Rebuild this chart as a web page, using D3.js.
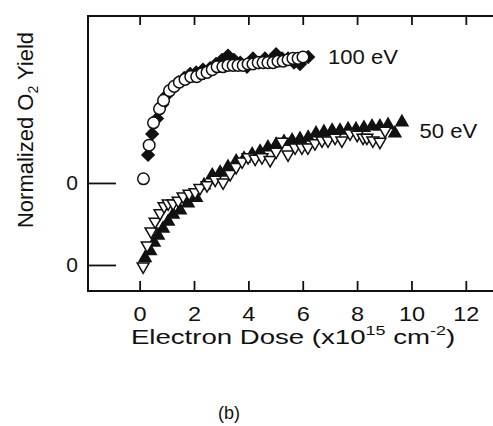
<!DOCTYPE html>
<html lang="en">
  <head>
    <title>Normalized O2 yield vs electron dose</title>
    <style>
      body { margin: 0; background: #fff; }
      text { font-family: "Liberation Sans", Arial, sans-serif; fill: #111; }
    </style>
  </head>
  <body>
    <div id="viz"></div>
    <script src="https://cdn.jsdelivr.net/npm/d3@7/dist/d3.min.js"></script>
    <script>
      // electron dose (x10^15 cm^-2), normalized yield
      const ev100Diamonds = [[0.31,0.20],[0.46,0.35],[0.64,0.46],[0.83,0.56],[1.01,0.63],[1.19,0.68],[1.42,0.72],[1.64,0.75],[1.86,0.78],[2.08,0.79],[2.33,0.81],[2.59,0.82],[2.81,0.85],[3.03,0.88],[3.25,0.91],[3.47,0.88],[3.70,0.86],[3.95,0.83],[4.17,0.89],[4.39,0.86],[4.61,0.89],[4.83,0.88],[5.02,0.92],[5.24,0.89],[5.46,0.89],[5.68,0.86],[5.90,0.85],[6.20,0.90]]
      const ev100Circles = [[0.14,0.03],[0.35,0.27],[0.51,0.43],[0.73,0.53],[0.88,0.59],[1.10,0.66],[1.27,0.69],[1.46,0.72],[1.67,0.74],[1.88,0.76],[2.10,0.76],[2.29,0.78],[2.48,0.79],[2.67,0.81],[2.85,0.83],[3.06,0.83],[3.25,0.84],[3.44,0.84],[3.62,0.84],[3.81,0.84],[3.99,0.85],[4.17,0.85],[4.36,0.86],[4.54,0.86],[4.72,0.86],[4.91,0.86],[5.09,0.87],[5.28,0.87],[5.46,0.88],[5.64,0.89],[5.83,0.89],[6.01,0.90]]
      const ev50Filled = [[0.20,0.05],[0.39,0.10],[0.53,0.16],[0.68,0.21],[0.86,0.26],[1.05,0.31],[1.23,0.36],[1.49,0.39],[1.78,0.44],[2.08,0.48],[2.37,0.57],[2.67,0.64],[2.96,0.66],[3.25,0.70],[3.55,0.74],[3.84,0.76],[4.14,0.79],[4.43,0.81],[4.72,0.84],[5.02,0.86],[5.31,0.88],[5.61,0.89],[5.90,0.90],[6.20,0.91],[6.49,0.94],[6.78,0.95],[7.08,0.96],[7.37,0.96],[7.67,0.97],[7.96,0.97],[8.25,0.98],[8.55,0.99],[8.84,0.99],[9.14,1.00],[9.39,0.94],[9.65,1.02]]
      const ev50Open = [[0.13,-0.01],[0.28,0.14],[0.42,0.24],[0.57,0.31],[0.75,0.37],[0.90,0.42],[1.05,0.44],[1.23,0.44],[1.42,0.46],[1.60,0.49],[1.82,0.51],[2.04,0.52],[2.22,0.55],[2.48,0.57],[2.78,0.61],[3.07,0.59],[3.33,0.65],[3.55,0.70],[3.77,0.74],[3.99,0.77],[4.25,0.76],[4.50,0.77],[4.80,0.75],[5.02,0.81],[5.24,0.88],[5.46,0.79],[5.72,0.84],[5.97,0.84],[6.19,0.84],[6.45,0.87],[6.71,0.89],[6.93,0.89],[7.19,0.91],[7.44,0.89],[7.74,0.94],[8.00,0.93],[8.22,0.91],[8.36,0.91],[8.58,0.89],[8.84,0.88],[9.03,0.96]]
      const offset100 = 0.586
      const xTicks = [0, 2, 4, 6, 8, 10, 12]
      const yTicks = [0, offset100]
      const curveLabels = [{ text: '100 eV', x: 6.93, y: offset100 + 0.905 }, { text: '50 eV', x: 10.3, y: 0.96 }]

      const width = 493
      const height = 426
      const svg = d3.select('#viz').append('svg').attr('width', width).attr('height', height)

      const x = d3.scaleLinear().domain([-1.9, 13]).range([88, 493])
      const y = d3.scaleLinear().domain([-0.186, 1.779]).range([291, 16])

      // the scanned lettering is a bit wider than Arial
      const stretch = (cx, cy, sx) => `translate(${cx},${cy}) scale(${sx},1) translate(${-cx},${-cy})`

      // frame (right side runs off the picture)
      svg.append('path')
        .attr('d', `M${width},${y.range()[1]}H${x.range()[0]}V${y.range()[0]}H${width}`)
        .attr('fill', 'none').attr('stroke', '#111').attr('stroke-width', 2)

      const gBottom = svg.append('g').attr('transform', `translate(0,${y.range()[0]})`)
        .call(d3.axisBottom(x).tickValues(xTicks).tickSizeInner(-10).tickSizeOuter(0).tickPadding(15))
      const gTop = svg.append('g').attr('transform', `translate(0,${y.range()[1]})`)
        .call(d3.axisTop(x).tickValues(xTicks).tickSizeInner(-9).tickSizeOuter(0).tickFormat(''))
      const gLeft = svg.append('g').attr('transform', `translate(${x.range()[0]},0)`)
        .call(d3.axisLeft(y).tickValues(yTicks).tickFormat(() => '0').tickSizeInner(-28).tickSizeOuter(0).tickPadding(10))

      ;[gBottom, gTop, gLeft].forEach(g => {
        g.select('.domain').remove()
        g.selectAll('.tick line').attr('stroke', '#111').attr('stroke-width', 1.8)
        g.selectAll('.tick text').attr('font-size', 21).attr('font-family', '"Liberation Sans", Arial, sans-serif').attr('fill', '#111')
      })
      gBottom.selectAll('.tick text').attr('transform', 'scale(1.12,1)')

      const diamond = d3.symbol().type(d3.symbolSquare).size(74)
      const circle = d3.symbol().type(d3.symbolCircle).size(105)
      const triangle = d3.symbol().type(d3.symbolTriangle).size(62)

      const plotMarks = (data, sym, fill, rotate, dy) => {
        svg.append('g').selectAll('path')
          .data(data)
          .enter()
            .append('path')
              .attr('d', sym)
              .attr('transform', d => `translate(${x(d[0])},${y(d[1] + dy)}) rotate(${rotate})`)
              .attr('fill', fill)
              .attr('stroke', '#111')
              .attr('stroke-width', 1.5)
      }

      plotMarks(ev100Diamonds, diamond, '#111', 45, offset100)
      plotMarks(ev100Circles, circle, '#fff', 0, offset100)
      plotMarks(ev50Filled, triangle, '#111', 0, 0)
      plotMarks(ev50Open, triangle, '#fff', 180, 0)

      svg.selectAll('text.curve')
        .data(curveLabels)
        .enter()
          .append('text')
            .attr('class', 'curve')
            .attr('x', d => x(d.x))
            .attr('y', d => y(d.y))
            .attr('dy', '0.35em')
            .attr('font-size', 21)
            .attr('transform', d => stretch(x(d.x), y(d.y), 1.05))
            .text(d => d.text)

      const ylab = svg.append('text')
        .attr('transform', 'translate(33,130) rotate(-90)')
        .attr('text-anchor', 'middle')
        .attr('font-size', 22)
      ylab.append('tspan').text('Normalized O')
      ylab.append('tspan').attr('font-size', 14).attr('dy', 5).text('2')
      ylab.append('tspan').attr('dy', -5).text(' Yield')

      const xlab = svg.append('text')
        .attr('x', 293)
        .attr('y', 344)
        .attr('text-anchor', 'middle')
        .attr('font-size', 20)
        .attr('transform', stretch(293, 344, 1.38))
      xlab.append('tspan').text('Electron Dose (x10')
      xlab.append('tspan').attr('font-size', 13).attr('dy', -9).text('15')
      xlab.append('tspan').attr('dy', 9).text(' cm')
      xlab.append('tspan').attr('font-size', 13).attr('dy', -9).text('-2')
      xlab.append('tspan').attr('dy', 9).text(')')

      svg.append('text')
        .attr('x', 229)
        .attr('y', 419)
        .attr('text-anchor', 'middle')
        .attr('font-family', '"Liberation Serif", "Times New Roman", serif')
        .attr('font-size', 18)
        .text('(b)')
    </script>
  </body>
</html>
